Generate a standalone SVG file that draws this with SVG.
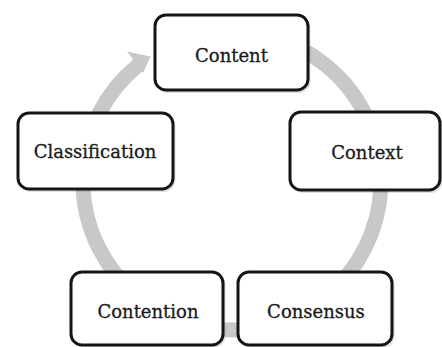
<svg xmlns="http://www.w3.org/2000/svg" width="442" height="347" viewBox="0 0 442 347">
<style>
.box{fill:#ffffff;stroke:#151515;stroke-width:3}
.shadow{fill:#000000;opacity:0.12}
.lbl{font-family:"DejaVu Serif","Liberation Serif",serif;font-size:18px;fill:#1a1a1a;stroke:#1a1a1a;stroke-width:0.3;text-anchor:middle}
.ring{fill:none;stroke:#c8c8c8;stroke-width:15}
</style>
<rect width="442" height="347" fill="#ffffff"/>
<g id="connectors">
<path class="ring" d="M 270.6 37.1 A 149 149 0 1 1 138.2 65.2"/>
<polygon points="150.5,56.5 127,51.5 143,73" fill="#c8c8c8"/>
</g>
<g id="content"><rect class="shadow" x="156.5" y="17" width="154" height="76" rx="12"/><rect class="box" x="155" y="15" width="153" height="75" rx="11"/><text class="lbl" x="231.5" y="61.5">Content</text></g>
<g id="context"><rect class="shadow" x="291.5" y="114" width="151" height="79" rx="12"/><rect class="box" x="290" y="112" width="150" height="78" rx="11"/><text class="lbl" x="367" y="158.5">Context</text></g>
<g id="classification"><rect class="shadow" x="19.5" y="115" width="156" height="77" rx="12"/><rect class="box" x="18" y="113" width="155" height="76" rx="11"/><text class="lbl" x="95" y="158">Classification</text></g>
<g id="contention"><rect class="shadow" x="72.5" y="274" width="153" height="74" rx="12"/><rect class="box" x="71" y="272" width="152" height="73" rx="11"/><text class="lbl" x="148" y="318">Contention</text></g>
<g id="consensus"><rect class="shadow" x="239.5" y="274" width="155" height="74" rx="12"/><rect class="box" x="238" y="272" width="154" height="73" rx="11"/><text class="lbl" x="316" y="318">Consensus</text></g>
</svg>
